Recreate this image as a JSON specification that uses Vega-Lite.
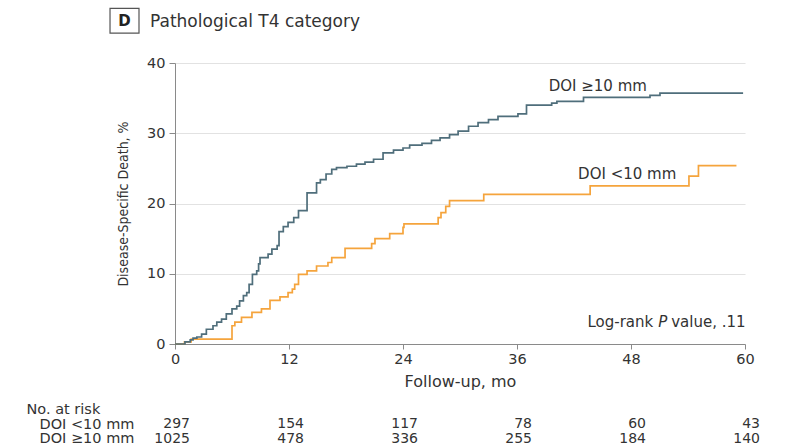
{
  "$schema": "https://vega.github.io/schema/vega-lite/v6.json",
  "background": "white",
  "padding": {"left": 26, "top": 7, "right": 12, "bottom": 0},
  "spacing": 11,
  "config": {
    "view": {"stroke": null},
    "font": "DejaVu Sans",
    "text": {"font": "DejaVu Sans", "color": "#333333"}
  },
  "vconcat": [
    {
      "width": 570,
      "height": 281,
      "layer": [
        {
          "data": {
            "values": [
              {"group": "DOI <10 mm", "month": 0, "pct": 0},
              {"group": "DOI <10 mm", "month": 1.0, "pct": 0.3},
              {"group": "DOI <10 mm", "month": 1.7, "pct": 0.7},
              {"group": "DOI <10 mm", "month": 6.0, "pct": 2.6},
              {"group": "DOI <10 mm", "month": 6.3, "pct": 3.1},
              {"group": "DOI <10 mm", "month": 7.0, "pct": 3.8},
              {"group": "DOI <10 mm", "month": 8.1, "pct": 4.5},
              {"group": "DOI <10 mm", "month": 9.1, "pct": 5.0},
              {"group": "DOI <10 mm", "month": 10.0, "pct": 6.2},
              {"group": "DOI <10 mm", "month": 11.05, "pct": 6.7},
              {"group": "DOI <10 mm", "month": 11.9, "pct": 7.3},
              {"group": "DOI <10 mm", "month": 12.35, "pct": 7.8},
              {"group": "DOI <10 mm", "month": 12.6, "pct": 8.5},
              {"group": "DOI <10 mm", "month": 13.0, "pct": 9.9},
              {"group": "DOI <10 mm", "month": 13.9, "pct": 10.4},
              {"group": "DOI <10 mm", "month": 14.9, "pct": 11.1},
              {"group": "DOI <10 mm", "month": 16.1, "pct": 11.6},
              {"group": "DOI <10 mm", "month": 16.5, "pct": 12.3},
              {"group": "DOI <10 mm", "month": 17.9, "pct": 13.6},
              {"group": "DOI <10 mm", "month": 20.7, "pct": 14.3},
              {"group": "DOI <10 mm", "month": 21.05, "pct": 15.0},
              {"group": "DOI <10 mm", "month": 22.6, "pct": 15.7},
              {"group": "DOI <10 mm", "month": 24.0, "pct": 16.6},
              {"group": "DOI <10 mm", "month": 24.1, "pct": 17.1},
              {"group": "DOI <10 mm", "month": 27.7, "pct": 18.0},
              {"group": "DOI <10 mm", "month": 28.0, "pct": 18.7},
              {"group": "DOI <10 mm", "month": 28.5, "pct": 19.6},
              {"group": "DOI <10 mm", "month": 28.9, "pct": 20.4},
              {"group": "DOI <10 mm", "month": 32.5, "pct": 21.3},
              {"group": "DOI <10 mm", "month": 43.7, "pct": 22.5},
              {"group": "DOI <10 mm", "month": 54.1, "pct": 23.9},
              {"group": "DOI <10 mm", "month": 55.1, "pct": 25.4},
              {"group": "DOI <10 mm", "month": 59.1, "pct": 25.4},
              {"group": "DOI ≥10 mm", "month": 0, "pct": 0},
              {"group": "DOI ≥10 mm", "month": 1.05, "pct": 0.3},
              {"group": "DOI ≥10 mm", "month": 1.6, "pct": 0.6},
              {"group": "DOI ≥10 mm", "month": 1.9, "pct": 0.85},
              {"group": "DOI ≥10 mm", "month": 2.3, "pct": 1.0},
              {"group": "DOI ≥10 mm", "month": 2.8, "pct": 1.4},
              {"group": "DOI ≥10 mm", "month": 3.3, "pct": 2.1},
              {"group": "DOI ≥10 mm", "month": 4.0, "pct": 2.6},
              {"group": "DOI ≥10 mm", "month": 4.4, "pct": 3.1},
              {"group": "DOI ≥10 mm", "month": 4.9, "pct": 3.55},
              {"group": "DOI ≥10 mm", "month": 5.4, "pct": 4.3},
              {"group": "DOI ≥10 mm", "month": 6.0, "pct": 5.0},
              {"group": "DOI ≥10 mm", "month": 6.5, "pct": 5.4},
              {"group": "DOI ≥10 mm", "month": 6.8, "pct": 6.15},
              {"group": "DOI ≥10 mm", "month": 7.2, "pct": 6.9},
              {"group": "DOI ≥10 mm", "month": 7.55, "pct": 7.3},
              {"group": "DOI ≥10 mm", "month": 7.8, "pct": 8.5},
              {"group": "DOI ≥10 mm", "month": 8.15, "pct": 9.9},
              {"group": "DOI ≥10 mm", "month": 8.6, "pct": 10.4},
              {"group": "DOI ≥10 mm", "month": 8.8, "pct": 11.4},
              {"group": "DOI ≥10 mm", "month": 8.95, "pct": 12.3},
              {"group": "DOI ≥10 mm", "month": 9.8, "pct": 12.8},
              {"group": "DOI ≥10 mm", "month": 10.2, "pct": 13.5},
              {"group": "DOI ≥10 mm", "month": 10.75, "pct": 14.0},
              {"group": "DOI ≥10 mm", "month": 10.95, "pct": 16.0},
              {"group": "DOI ≥10 mm", "month": 11.4, "pct": 16.7},
              {"group": "DOI ≥10 mm", "month": 11.9, "pct": 17.3},
              {"group": "DOI ≥10 mm", "month": 12.5, "pct": 18.0},
              {"group": "DOI ≥10 mm", "month": 13.0, "pct": 19.0},
              {"group": "DOI ≥10 mm", "month": 13.9, "pct": 21.5},
              {"group": "DOI ≥10 mm", "month": 14.9, "pct": 22.95},
              {"group": "DOI ≥10 mm", "month": 15.3, "pct": 23.4},
              {"group": "DOI ≥10 mm", "month": 15.9, "pct": 24.2},
              {"group": "DOI ≥10 mm", "month": 16.5, "pct": 24.85},
              {"group": "DOI ≥10 mm", "month": 17.0, "pct": 25.1},
              {"group": "DOI ≥10 mm", "month": 18.1, "pct": 25.3},
              {"group": "DOI ≥10 mm", "month": 19.1, "pct": 25.6},
              {"group": "DOI ≥10 mm", "month": 20.0, "pct": 25.9},
              {"group": "DOI ≥10 mm", "month": 20.9, "pct": 26.3},
              {"group": "DOI ≥10 mm", "month": 21.9, "pct": 27.2},
              {"group": "DOI ≥10 mm", "month": 23.0, "pct": 27.6},
              {"group": "DOI ≥10 mm", "month": 24.0, "pct": 27.9},
              {"group": "DOI ≥10 mm", "month": 24.7, "pct": 28.3},
              {"group": "DOI ≥10 mm", "month": 26.0, "pct": 28.55},
              {"group": "DOI ≥10 mm", "month": 27.0, "pct": 29.0},
              {"group": "DOI ≥10 mm", "month": 27.9, "pct": 29.35},
              {"group": "DOI ≥10 mm", "month": 28.9, "pct": 29.8},
              {"group": "DOI ≥10 mm", "month": 29.8, "pct": 30.3},
              {"group": "DOI ≥10 mm", "month": 30.9, "pct": 31.0},
              {"group": "DOI ≥10 mm", "month": 31.9, "pct": 31.5},
              {"group": "DOI ≥10 mm", "month": 33.0, "pct": 31.95},
              {"group": "DOI ≥10 mm", "month": 34.0, "pct": 32.4},
              {"group": "DOI ≥10 mm", "month": 36.1, "pct": 32.75},
              {"group": "DOI ≥10 mm", "month": 37.0, "pct": 34.0},
              {"group": "DOI ≥10 mm", "month": 39.65, "pct": 34.3},
              {"group": "DOI ≥10 mm", "month": 40.2, "pct": 34.55},
              {"group": "DOI ≥10 mm", "month": 43.0, "pct": 35.1},
              {"group": "DOI ≥10 mm", "month": 50.0, "pct": 35.4},
              {"group": "DOI ≥10 mm", "month": 51.05, "pct": 35.7},
              {"group": "DOI ≥10 mm", "month": 59.8, "pct": 35.7}
            ]
          },
          "mark": {"type": "line", "interpolate": "step-after", "strokeWidth": 1.7},
          "encoding": {
            "x": {
              "field": "month",
              "type": "quantitative",
              "scale": {"domain": [0, 60]},
              "axis": {
                "values": [0, 12, 24, 36, 48, 60],
                "title": "Follow-up, mo",
                "titleFont": "DejaVu Sans",
                "titleFontSize": 16,
                "titleFontWeight": "normal",
                "titleColor": "#333333",
                "titlePadding": 8,
                "labelFont": "DejaVu Sans",
                "labelFontSize": 14.5,
                "labelColor": "#333333",
                "labelPadding": 3,
                "labelFlush": false,
                "tickSize": 5,
                "tickColor": "#8a8a8a",
                "domainColor": "#8a8a8a",
                "grid": false
              }
            },
            "y": {
              "field": "pct",
              "type": "quantitative",
              "scale": {"domain": [0, 40]},
              "axis": {
                "values": [0, 10, 20, 30, 40],
                "title": "Disease-Specific Death, %",
                "titleFont": "DejaVu Sans Condensed",
                "titleFontSize": 14,
                "titleFontWeight": "normal",
                "titleColor": "#333333",
                "titlePadding": 16,
                "labelFont": "DejaVu Sans",
                "labelFontSize": 14.5,
                "labelColor": "#333333",
                "labelPadding": 4,
                "tickSize": 6,
                "tickColor": "#8a8a8a",
                "domainColor": "#8a8a8a",
                "grid": true,
                "gridColor": "#e2e2e2",
                "gridWidth": 1.2
              }
            },
            "color": {
              "field": "group",
              "type": "nominal",
              "scale": {"domain": ["DOI <10 mm", "DOI ≥10 mm"], "range": ["#f5a43c", "#4f6e7b"]},
              "legend": null
            }
          }
        },
        {
          "data": {
            "values": [
              {"label": "DOI ≥10 mm", "month": 44.5, "pct": 36.7},
              {"label": "DOI <10 mm", "month": 47.6, "pct": 24.15}
            ]
          },
          "mark": {"type": "text", "fontSize": 15, "align": "center", "baseline": "middle"},
          "encoding": {
            "x": {"field": "month", "type": "quantitative"},
            "y": {"field": "pct", "type": "quantitative"},
            "text": {"field": "label"}
          }
        },
        {
          "data": {"values": [{"part": "Log-rank", "month": 51.34, "pct": 3.07}]},
          "mark": {"type": "text", "fontSize": 15, "align": "right", "baseline": "middle", "dx": -9.5},
          "encoding": {
            "x": {"field": "month", "type": "quantitative"},
            "y": {"field": "pct", "type": "quantitative"},
            "text": {"field": "part"}
          }
        },
        {
          "data": {"values": [{"part": "P", "month": 51.34, "pct": 3.07}]},
          "mark": {"type": "text", "fontSize": 15, "fontStyle": "italic", "align": "center", "baseline": "middle"},
          "encoding": {
            "x": {"field": "month", "type": "quantitative"},
            "y": {"field": "pct", "type": "quantitative"},
            "text": {"field": "part"}
          }
        },
        {
          "data": {"values": [{"part": "value, .11", "month": 51.34, "pct": 3.07}]},
          "mark": {"type": "text", "fontSize": 15, "align": "left", "baseline": "middle", "dx": 8.5},
          "encoding": {
            "x": {"field": "month", "type": "quantitative"},
            "y": {"field": "pct", "type": "quantitative"},
            "text": {"field": "part"}
          }
        },
        {
          "data": {"values": [{}]},
          "mark": {"type": "rect", "fill": "white", "stroke": "#555555", "strokeWidth": 1.2},
          "encoding": {
            "x": {"datum": -6.84},
            "x2": {"datum": -3.79},
            "y": {"datum": 44.26},
            "y2": {"datum": 47.77}
          }
        },
        {
          "data": {"values": [{}]},
          "mark": {"type": "text", "text": "D", "fontSize": 15, "fontWeight": "bold", "align": "center", "baseline": "middle", "color": "#222222"},
          "encoding": {
            "x": {"datum": -5.31},
            "y": {"datum": 46.0}
          }
        },
        {
          "data": {"values": [{}]},
          "mark": {"type": "text", "text": "Pathological T4 category", "fontSize": 17, "align": "left", "baseline": "middle", "color": "#333333"},
          "encoding": {
            "x": {"datum": -2.63},
            "y": {"datum": 45.9}
          }
        }
      ]
    },
    {
      "width": 570,
      "height": 44,
      "data": {
        "values": [
          {"group": "DOI <10 mm", "month": 0, "n": 297},
          {"group": "DOI <10 mm", "month": 12, "n": 154},
          {"group": "DOI <10 mm", "month": 24, "n": 117},
          {"group": "DOI <10 mm", "month": 36, "n": 78},
          {"group": "DOI <10 mm", "month": 48, "n": 60},
          {"group": "DOI <10 mm", "month": 60, "n": 43},
          {"group": "DOI ≥10 mm", "month": 0, "n": 1025},
          {"group": "DOI ≥10 mm", "month": 12, "n": 478},
          {"group": "DOI ≥10 mm", "month": 24, "n": 336},
          {"group": "DOI ≥10 mm", "month": 36, "n": 255},
          {"group": "DOI ≥10 mm", "month": 48, "n": 184},
          {"group": "DOI ≥10 mm", "month": 60, "n": 140}
        ]
      },
      "mark": {"type": "text", "align": "right", "baseline": "middle", "dx": 15, "fontSize": 14},
      "encoding": {
        "x": {"field": "month", "type": "quantitative", "scale": {"domain": [0, 60]}, "axis": null},
        "y": {
          "field": "group",
          "type": "nominal",
          "scale": {"type": "point", "padding": 0.5, "domain": ["No. at risk", "DOI <10 mm", "DOI ≥10 mm"]},
          "axis": {
            "title": null,
            "ticks": false,
            "tickSize": 0,
            "domain": false,
            "labelAlign": "left",
            "labelBaseline": "middle",
            "labelPadding": {"condition": {"test": "datum.value === 'No. at risk'", "value": 149}, "value": 136},
            "labelFont": "DejaVu Sans",
            "labelFontSize": 14.5,
            "labelColor": "#333333"
          }
        },
        "text": {"field": "n", "type": "quantitative"}
      }
    }
  ]
}
